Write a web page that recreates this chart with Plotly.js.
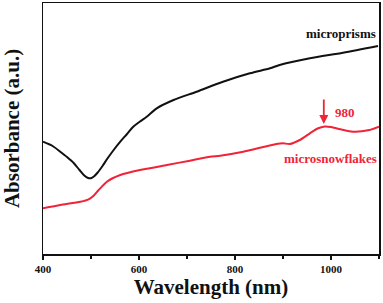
<!DOCTYPE html>
<html>
<head>
<meta charset="utf-8">
<script src="https://cdn.plot.ly/plotly-3.0.1.min.js"></script>
<style>html,body{margin:0;padding:0;background:#fff;}#chart{width:383px;height:303px;}</style>
</head>
<body>
<div id="chart"></div>
<script>
// Wavelength (nm) and absorbance (arbitrary units)
const prismWavelength = [400, 420, 436, 450, 464, 476, 486, 494, 500, 506, 514, 524, 535, 548, 561, 575, 588, 602, 616, 637, 672, 720, 775, 831, 873, 893, 956, 1025, 1098];
const prismAbsorbance = [112.3, 108, 102.3, 97, 91, 84, 78.5, 76, 75.8, 77.5, 81.5, 88, 96, 104.5, 112.3, 120, 127.3, 132.5, 137.3, 145.7, 154, 162.3, 172.3, 180.7, 185.7, 189, 195.7, 201.3, 208];

const flakeWavelength = [400, 436, 478, 495, 506, 516, 533, 561, 602, 658, 706, 748, 769, 817, 886, 900, 914, 935, 956, 972, 987, 1000, 1011, 1046, 1080, 1100];
const flakeAbsorbance = [45.7, 49, 52.3, 54.7, 58.5, 64, 72.3, 79, 84, 89, 93.3, 97.3, 98.3, 102.3, 110, 110.7, 110, 114, 120.7, 125.5, 127.5, 127, 125.7, 122.3, 124, 127.3];

const seriesNames = ["microprisms", "microsnowflakes"];
const peakWavelength = 985;
const peakAbsorbance = 128;
const peakLabel = "980";

const serif = "Times New Roman";
const red = "rgb(240,35,55)";

const traces = [
  {x: prismWavelength, y: prismAbsorbance, type: "scatter", mode: "lines", name: seriesNames[0],
   line: {color: "#111", width: 2, shape: "spline", smoothing: 0.8}},
  {x: flakeWavelength, y: flakeAbsorbance, type: "scatter", mode: "lines", name: seriesNames[1],
   line: {color: red, width: 2, shape: "spline", smoothing: 0.6}}
];

const layout = {
  width: 383, height: 303,
  margin: {l: 43, r: 4, t: 3, b: 49},
  paper_bgcolor: "#fff", plot_bgcolor: "#fff",
  showlegend: false,
  xaxis: {
    range: [400, 1100], dtick: 200, tick0: 400,
    ticks: "outside", ticklen: 4, tickwidth: 1.5, tickcolor: "#111",
    minor: {dtick: 100, ticks: "outside", ticklen: 3, tickwidth: 1.5, tickcolor: "#111"},
    showline: true, linecolor: "#111", linewidth: 1.5, mirror: true,
    showgrid: false, zeroline: false,
    tickfont: {family: serif, size: 11, color: "#111", weight: "bold"},
    title: {text: "Wavelength (nm)", font: {family: serif, size: 21, color: "#111", weight: "bold"}, standoff: 0}
  },
  yaxis: {
    range: [0, 251],
    showticklabels: false, ticks: "",
    showline: true, linecolor: "#111", linewidth: 1.5, mirror: true,
    showgrid: false, zeroline: false,
    title: {text: "Absorbance (a.u.)", font: {family: serif, size: 21, color: "#111", weight: "bold"}, standoff: 16}
  },
  annotations: [
    {x: 1097, y: 221, xref: "x", yref: "y", text: seriesNames[0], showarrow: false,
     xanchor: "right", yanchor: "middle",
     font: {family: serif, size: 13, color: "#111", weight: "bold"}},
    {x: 1100, y: 96, xref: "x", yref: "y", text: seriesNames[1], showarrow: false,
     xanchor: "right", yanchor: "middle",
     font: {family: serif, size: 13, color: red, weight: "bold"}},
    {x: peakWavelength, y: peakAbsorbance + 2, xref: "x", yref: "y", text: "", showarrow: true,
     ax: 0, ay: -26, arrowhead: 2, arrowsize: 1, arrowwidth: 1.8, arrowcolor: red},
    {x: 1004, y: 141.5, xref: "x", yref: "y", text: peakLabel, showarrow: false,
     xanchor: "left", yanchor: "middle",
     font: {family: serif, size: 13, color: red, weight: "bold"}}
  ]
};

Plotly.newPlot("chart", traces, layout, {staticPlot: true, displayModeBar: false});
</script>
</body>
</html>
